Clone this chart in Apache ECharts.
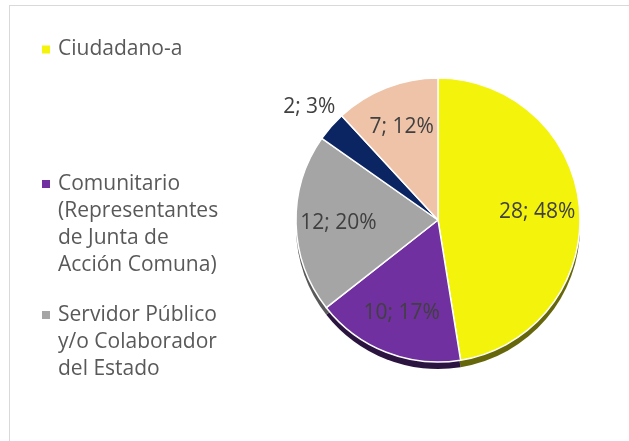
<!DOCTYPE html>
<html>
<head>
<meta charset="utf-8">
<script src="https://cdn.jsdelivr.net/npm/echarts@6/dist/echarts.min.js"></script>
<style>
html,body{margin:0;padding:0;background:#fff;}
#chart{width:629px;height:441px;}
</style>
</head>
<body>
<div id="chart"></div>
<script>
// Data
const categories = ['Ciudadano-a', 'Comunitario (Representantes de Junta de Acción Comuna)', 'Servidor Público y/o Colaborador del Estado', 'Otro', 'Otros actores'];
const legendLabels = ['Ciudadano-a', 'Comunitario\n(Representantes\nde Junta de\nAcción Comuna)', 'Servidor Público\ny/o Colaborador\ndel Estado'];
const values = [28, 10, 12, 2, 7];
const colors = ['#F3F30C', '#7030A0', '#A5A5A5', '#0A2562', '#EEC3A8'];
const shadowColors = ['#66660A', '#2C1440', '#595959', '#061230', '#8a7060'];

const R = 142;
const CX = 438, CY = 220;
const FONT = 'Open Sans';
const LH = 27;
const total = values.reduce((a, b) => a + b, 0);
const isSmall = v => v / total < 0.05;

const mainData = categories.map((n, i) => ({ name: n, value: values[i], itemStyle: { color: colors[i] } }));
const shadowData = categories.map((n, i) => ({ name: n, value: values[i], itemStyle: { color: shadowColors[i] } }));
const innerLabelData = categories.map((n, i) => ({ name: n, value: values[i], label: { show: !isSmall(values[i]) } }));
const outerLabelData = categories.map((n, i) => ({ name: n, value: values[i], label: { show: isSmall(values[i]) } }));

function makeLegend(idx, iconCenterY) {
  const n = legendLabels[idx].split('\n').length;
  const H = n * LH;
  const W = 11;
  const s = LH / 2 - 4;
  // square icon at the first text line; the extra move points stretch the icon box
  const iconPath = 'path://M0,0L0.01,0M0,' + s + 'L8,' + s + 'L8,' + (s + 8) + 'L0,' + (s + 8) + 'ZM' + W + ',' + H + 'L' + (W - 0.01) + ',' + H;
  return {
    orient: 'vertical',
    left: 42,
    top: iconCenterY - LH / 2,
    padding: 0,
    icon: iconPath,
    itemWidth: W,
    itemHeight: H,
    itemStyle: { borderWidth: 0 },
    data: [categories[idx]],
    formatter: () => legendLabels[idx],
    selectedMode: false,
    textStyle: {
      fontFamily: FONT,
      fontSize: 21,
      color: '#595959',
      lineHeight: LH
    }
  };
}

const labelStyle = {
  formatter: '{c}; {d}%',
  fontFamily: FONT,
  fontSize: 21,
  color: '#404040'
};

const chart = echarts.init(document.getElementById('chart'));
chart.setOption({
  animation: false,
  backgroundColor: '#fff',
  graphic: [
    { type: 'line', shape: { x1: 9.5, y1: 5, x2: 9.5, y2: 441 }, style: { stroke: '#d9d9d9', lineWidth: 1 } },
    { type: 'line', shape: { x1: 9, y1: 5.5, x2: 629, y2: 5.5 }, style: { stroke: '#d9d9d9', lineWidth: 1 } }
  ],
  legend: [makeLegend(0, 49.5), makeLegend(1, 184), makeLegend(2, 315)],
  series: [
    {
      type: 'pie',
      z: 3,
      center: [CX, CY],
      radius: [0, R],
      startAngle: 90,
      clockwise: true,
      silent: true,
      label: { show: false },
      labelLine: { show: false },
      itemStyle: { borderColor: '#ffffff', borderWidth: 1.5 },
      data: mainData
    },
    {
      type: 'pie',
      z: 1,
      center: [CX, CY + 7],
      radius: [0, R],
      startAngle: 90,
      silent: true,
      label: { show: false },
      labelLine: { show: false },
      itemStyle: { borderWidth: 0 },
      data: shadowData,
      legendHoverLink: false
    },
    {
      type: 'pie',
      z: 4,
      center: [CX, CY],
      radius: [R * 0.36, R],
      startAngle: 90,
      silent: true,
      percentPrecision: 0,
      itemStyle: { color: 'rgba(0,0,0,0)', borderWidth: 0 },
      label: Object.assign({ position: 'inside' }, labelStyle),
      labelLine: { show: false },
      data: innerLabelData
    },
    {
      type: 'pie',
      z: 4,
      center: [CX, CY],
      radius: [R, R + 52],
      startAngle: 90,
      silent: true,
      percentPrecision: 0,
      itemStyle: { color: 'rgba(0,0,0,0)', borderWidth: 0 },
      label: Object.assign({ position: 'inside' }, labelStyle),
      labelLine: { show: false },
      data: outerLabelData
    }
  ]
});
</script>
</body>
</html>
